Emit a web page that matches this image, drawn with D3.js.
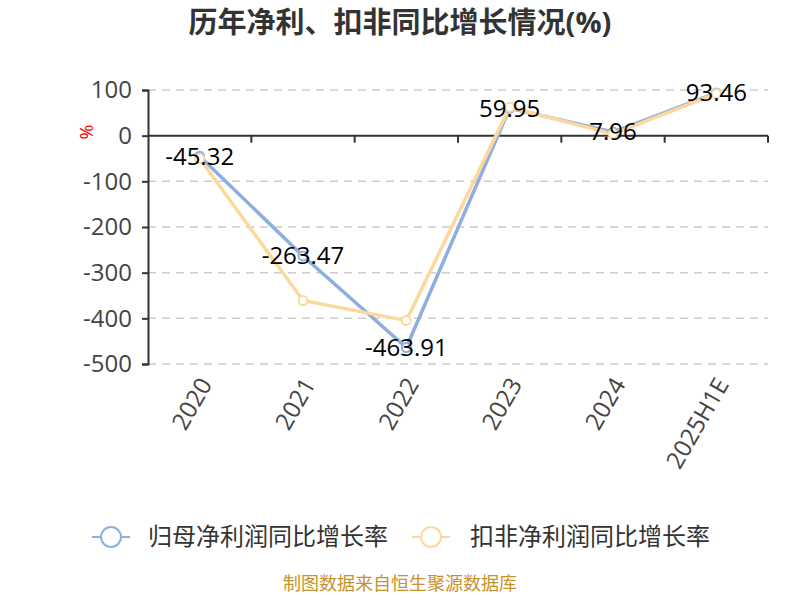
<!DOCTYPE html>
<html><head><meta charset="utf-8">
<script src="https://cdn.jsdelivr.net/npm/d3@7"></script>
<style>body{margin:0;background:#fff}svg{display:block}text{font-family:"Open Sans","Noto Sans CJK SC",sans-serif}</style>
</head><body><svg id="c" width="800" height="600"></svg>
<script>
const categories = ["2020","2021","2022","2023","2024","2025H1E"];
const netProfitGrowth = [-45.32,-263.47,-463.91,59.95,7.96,93.46];
const deductedGrowth = [-50,-361,-405,62,4,92];
const yTicks = [100,0,-100,-200,-300,-400,-500];
const seriesNames = ["归母净利润同比增长率","扣非净利润同比增长率"];
const colors = ["#8eaee0","#fdd89c"];

const svg = d3.select("#c");
const L=148, R=768, T=90, B=364;
const x = d3.scaleBand().domain(categories).range([L,R]);
const y = d3.scaleLinear().domain([-500,100]).range([B,T]);

svg.append("text").attr("x",400).attr("y",33).attr("text-anchor","middle")
  .attr("font-size",29).attr("font-weight","bold").attr("fill","#333").text("历年净利、扣非同比增长情况(%)");

// grid
svg.append("g").selectAll("line").data(yTicks.filter(d=>d!==0)).join("line")
  .attr("x1",L).attr("x2",R).attr("y1",d=>y(d)).attr("y2",d=>y(d))
  .attr("stroke","#ccc").attr("stroke-width",1.5).attr("stroke-dasharray","8,6");

// y axis
const ya = svg.append("g").attr("transform",`translate(${L},0)`)
  .call(d3.axisLeft(y).tickValues(yTicks).tickSize(6).tickPadding(10).tickFormat(d=>String(d)));
ya.select(".domain").attr("stroke","#333").attr("stroke-width",2);
ya.selectAll(".tick line").attr("stroke","#333").attr("stroke-width",2);
ya.selectAll("text").attr("font-size",24).attr("fill","#444").attr("font-family",'"Open Sans",sans-serif');

// x axis at zero
const xa = svg.append("g").attr("transform",`translate(0,${y(0)})`);
xa.append("line").attr("x1",L).attr("x2",R).attr("stroke","#333").attr("stroke-width",2);
xa.selectAll("line.t").data(categories).join("line").attr("class","t")
  .attr("x1",d=>x(d)+x.bandwidth()).attr("x2",d=>x(d)+x.bandwidth()).attr("y1",0).attr("y2",7)
  .attr("stroke","#333").attr("stroke-width",2);
svg.append("g").selectAll("text").data(categories).join("text")
  .attr("transform",d=>`translate(${x(d)+x.bandwidth()/2+6},${B+16}) rotate(-60)`)
  .attr("text-anchor","end").attr("dy","0.35em").attr("font-size",24).attr("fill","#444").text(d=>d);

svg.append("text").attr("transform",`translate(87,132) rotate(-90)`).attr("text-anchor","middle")
  .attr("dy","0.35em").attr("font-size",18).attr("fill","#e00").text("%");

const line = d3.line().x((d,i)=>x(categories[i])+x.bandwidth()/2).y(d=>y(d));
[netProfitGrowth, deductedGrowth].forEach((s,k)=>{
  svg.append("path").datum(s).attr("d",line).attr("fill","none").attr("stroke",colors[k]).attr("stroke-width",3.5);
});
[netProfitGrowth, deductedGrowth].forEach((s,k)=>{
  svg.append("g").selectAll("circle").data(s).join("circle")
    .attr("cx",(d,i)=>x(categories[i])+x.bandwidth()/2).attr("cy",d=>y(d)).attr("r",4.5)
    .attr("fill","#fff").attr("stroke",colors[k]).attr("stroke-width",2);
});
svg.append("g").selectAll("text").data(netProfitGrowth).join("text")
  .attr("x",(d,i)=>x(categories[i])+x.bandwidth()/2).attr("y",d=>y(d)).attr("dy","0.35em")
  .attr("text-anchor","middle").attr("font-size",24).attr("fill","#000").text(d=>d.toFixed(2));

// legend
const leg = [{x:92,tx:148},{x:412,tx:470}];
leg.forEach((l,k)=>{
  const g = svg.append("g");
  g.append("line").attr("x1",l.x).attr("x2",l.x+38).attr("y1",537).attr("y2",537).attr("stroke",colors[k]).attr("stroke-width",2);
  g.append("circle").attr("cx",l.x+19).attr("cy",537).attr("r",10).attr("fill","#fff").attr("stroke",colors[k]).attr("stroke-width",2);
  g.append("text").attr("x",l.tx).attr("y",537).attr("dy","0.35em").attr("font-size",24).attr("fill","#333").text(seriesNames[k]);
});

svg.append("text").attr("x",400).attr("y",590).attr("text-anchor","middle").attr("font-size",18)
  .attr("fill","#c8922a").text("制图数据来自恒生聚源数据库");
</script></body></html>
